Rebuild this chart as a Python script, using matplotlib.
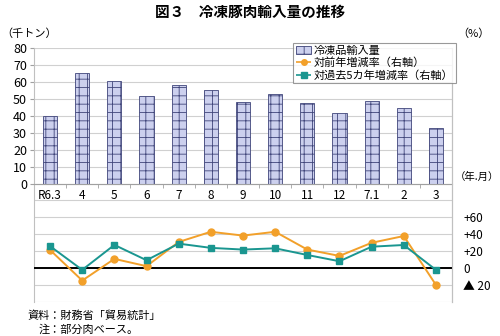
import matplotlib
matplotlib.use("Agg")
from matplotlib import pyplot as plt
from matplotlib.lines import Line2D
from matplotlib.patches import Patch

plt.rcParams['font.family'] = ['Noto Sans CJK JP', 'DejaVu Sans']
plt.rcParams['hatch.color'] = '#5057a8'
plt.rcParams['hatch.linewidth'] = 0.6

months = ["R6.3", "4", "5", "6", "7", "8", "9", "10", "11", "12", "7.1", "2", "3"]
imports = [40.1, 65.2, 60.7, 51.4, 58.3, 55.1, 48.2, 52.6, 47.8, 41.9, 48.6, 44.5, 32.6]
yoy = [21.5, -14.6, 11.0, 2.4, 31.0, 43.0, 38.5, 43.0, 22.0, 14.5, 30.0, 38.0, -19.7]
vs5y = [26.0, -2.0, 27.5, 9.4, 29.0, 24.0, 22.0, 23.5, 15.6, 8.2, 25.4, 27.4, -2.0]

right_ticks = [-20, 0, 20, 40, 60]
right_labels = ["▲ 20", "0", "+20", "+40", "+60"]

bar_color = '#ccd0ee'
orange = '#f2a02a'
teal = '#1a9690'
grid_c = '#d0d0d0'

fig = plt.figure(figsize=(5, 3.36), dpi=100)
ax = fig.add_axes([0.068, 0.101, 0.836, 0.756])
x = list(range(len(months)))

ax.bar(x, imports, width=0.44, color=bar_color, edgecolor='#40457a',
       linewidth=0.6, hatch='++', zorder=2)
ax.set_xlim(-0.5, len(months) - 0.5)
ax.set_ylim(-70, 80)
ax.set_yticks(range(0, 81, 10))
ax.set_yticks(range(-70, 0, 10), minor=True)
ax.tick_params(axis='y', which='major', labelsize=9, length=3, color='#a0a0a0', pad=2)
ax.tick_params(axis='y', which='minor', length=0)
ax.grid(axis='y', which='both', color=grid_c, linewidth=0.8, zorder=0)
ax.set_axisbelow(True)

ax.spines['bottom'].set_position(('data', 0))
ax.spines['bottom'].set_color('#a0a0a0')
ax.spines['top'].set_visible(False)
ax.spines['left'].set_color('#c0c0c0')
ax.spines['right'].set_color('#c0c0c0')
ax.set_xticks(x)
ax.set_xticklabels(months)
ax.set_xticks([i - 0.5 for i in range(len(months) + 1)], minor=True)
ax.tick_params(axis='x', which='major', length=0, labelsize=8.5, pad=4)
ax.tick_params(axis='x', which='minor', length=3, color='#a0a0a0')

ax2 = ax.twinx()
ax2.set_ylim(-40, 260)
ax2.axhline(0, color='black', linewidth=1.4, zorder=1)
ax2.plot(x, yoy, color=orange, linewidth=1.4, marker='o', markersize=5, zorder=3)
ax2.plot(x, vs5y, color=teal, linewidth=1.4, marker='s', markersize=5, zorder=4)
ax2.set_yticks(right_ticks)
ax2.set_yticklabels(right_labels)
ax2.tick_params(axis='y', length=0, labelsize=8.5, pad=8)
for s in ['top', 'left', 'bottom']:
    ax2.spines[s].set_visible(False)
ax2.spines['right'].set_color('#c0c0c0')

handles = [
    Patch(facecolor=bar_color, edgecolor='#40457a', hatch='++', linewidth=0.6),
    Line2D([], [], color=orange, linestyle='--', marker='o', markersize=4, linewidth=1.2),
    Line2D([], [], color=teal, linestyle='--', marker='s', markersize=4, linewidth=1.2),
]
labels = ["冷凍品輸入量", "対前年増減率（右軸）", "対過去5カ年増減率（右軸）"]
leg = ax2.legend(handles, labels, loc='upper left', bbox_to_anchor=(0.62, 1.02),
                 fontsize=8, frameon=True, fancybox=False, edgecolor='#808080',
                 handlelength=1.4, handletextpad=0.2, labelspacing=0.15,
                 borderpad=0.25, borderaxespad=0)
leg.get_frame().set_linewidth(0.8)

fig.text(0.5, 0.965, "図３　冷凍豚肉輸入量の推移", ha='center', va='center',
         fontsize=10.5, fontweight='bold')
fig.text(0.002, 0.9, "（千トン）", ha='left', va='center', fontsize=8)
fig.text(0.915, 0.9, "（%）", ha='left', va='center', fontsize=8)
fig.text(0.998, 0.475, "（年.月）", ha='right', va='center', fontsize=7.5)
fig.text(0.056, 0.06, "資料：財務省「貿易統計」", ha='left', va='center', fontsize=8)
fig.text(0.078, 0.018, "注：部分肉ベース。", ha='left', va='center', fontsize=8)

fig.savefig("out.png", dpi=100)
